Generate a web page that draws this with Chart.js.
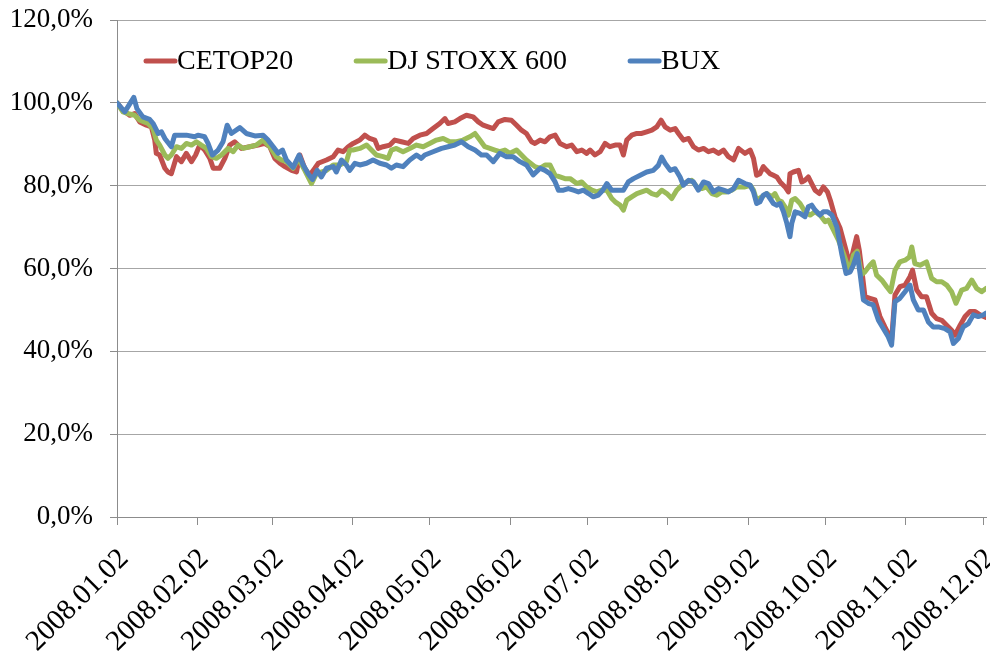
<!DOCTYPE html>
<html>
<head>
<meta charset="utf-8">
<script src="https://cdn.jsdelivr.net/npm/chart.js@4/dist/chart.umd.min.js"></script>
<style>
  body { margin: 0; background: #fff; }
  #wrap { width: 990px; height: 652px; }
</style>
</head>
<body>
<div id="wrap"><canvas id="indexChart" width="990" height="652"></canvas></div>
<script>
// x values are calendar days counted from 2008.01.02
const tickDays = [0, 31, 60, 91, 121, 152, 182, 213, 244, 274, 305, 335];
const tickLabels = ['2008.01.02', '2008.02.02', '2008.03.02', '2008.04.02', '2008.05.02', '2008.06.02',
  '2008.07.02', '2008.08.02', '2008.09.02', '2008.10.02', '2008.11.02', '2008.12.02'];

const cetopDay = [0, 2.3, 4.9, 6.8, 8.8, 11.4, 13.3, 14.6, 15.2, 16.5, 18.5, 19.7, 21, 23, 24.9, 26.8, 28.8, 30.4, 32, 33.9,
  35.9, 37.2, 39.7, 41.7, 43.6, 45.5, 48.1, 51.3, 54.6, 57.1, 59.1, 61, 63, 64.9, 67.5, 69.4, 70.7, 72.6, 74.5, 76.5, 77.8,
  81, 83.6, 85.5, 87.4, 89.4, 91.3, 93.9, 95.8, 97.7, 99.7, 101, 102.9, 105.5, 107.4, 110, 112.6, 114.5, 117.1, 119.7,
  122.2, 124.8, 126.8, 128, 130.6, 132.6, 135.1, 137.7, 139.7, 141.6, 143.5, 145.5, 147.4, 150, 152.5, 154.5, 156.4,
  158.3, 160.3, 161.6, 163.6, 165.5, 167.4, 169.4, 171.3, 173.9, 175.8, 177.8, 179.7, 181.6, 182.9, 184.8, 186.8, 188.7,
  190.6, 192.6, 194.5, 195.8, 197.1, 199, 201, 202.9, 204.8, 206.8, 208.7, 210.4, 211.9, 213.9, 215.8, 217.1, 219, 221,
  222.9, 224.8, 226.8, 228.7, 230.6, 232.6, 234.5, 236.4, 238.4, 240.3, 242.8, 244.8, 246.1, 247.3, 248.6, 249.9, 251.2,
  252.5, 253.8, 255.1, 256.4, 258.3, 259.6, 260.2, 261.5, 263.5, 264.8, 266, 267.3, 268.6, 269.9, 271.6, 273.1, 274.7,
  276, 277.6, 279.6, 281.5, 283.4, 284.7, 286, 287, 288.3, 289.2, 291.1, 293.1, 295, 296.9, 298.9, 299.5, 300.8, 302.7,
  304.7, 306.6, 307.6, 309.2, 311.1, 313, 315, 316.9, 318.9, 320.8, 322.7, 324, 326, 327.9, 329.8, 331.8, 333.7, 336];
const cetopPct = [100, 98.2, 97.0, 97.4, 95.4, 94.6, 94.2, 91.0, 87.8, 87.4, 84.2, 83.3, 82.9, 87.0, 85.8, 87.8, 85.8, 87.4, 89.8, 88.6,
  86.6, 84.2, 84.2, 86.6, 89.8, 90.6, 89.0, 89.4, 89.8, 90.2, 89.4, 86.6, 85.4, 84.6, 83.7, 83.3, 87.4, 84.2, 82.5, 84.2, 85.4,
  86.2, 87.0, 88.6, 88.2, 89.4, 90.2, 91.0, 92.2, 91.4, 91.0, 89.0, 89.4, 89.8, 91.0, 90.6, 90.2, 91.4, 92.2, 92.6,
  93.8, 95.0, 96.2, 95.0, 95.4, 96.2, 97.0, 96.6, 95.4, 94.6, 94.2, 93.8, 95.4, 96.0, 95.8, 94.6, 93.4,
  92.6, 90.6, 90.2, 91.0, 90.6, 91.8, 92.2, 90.2, 89.4, 89.8, 88.2, 88.6, 87.8, 88.6, 87.4, 88.2, 90.2,
  89.4, 89.8, 89.8, 87.4, 91.0, 92.2, 92.6, 92.6, 93.0, 93.4, 94.2, 95.8, 94.2, 93.4, 93.8, 92.6, 91.0, 91.4,
  89.4, 88.6, 89.0, 88.2, 88.6, 87.8, 88.6, 87.0, 86.2, 89.0, 87.8, 88.6, 86.6, 82.5, 82.9, 84.6, 83.7,
  82.9, 82.5, 82.1, 80.9, 79.7, 78.5, 82.9, 83.3, 83.7, 80.9, 81.3, 82.1, 80.5, 78.9, 78.1, 79.7, 78.5,
  76.1, 72.5, 69.7, 65.3, 60.8, 64.4, 67.7, 64.4, 58.0, 53.2, 52.8, 52.4, 48.4, 45.9, 43.5, 42.7, 53.6, 55.6,
  56.0, 58.0, 59.6, 54.8, 53.2, 53.2, 49.2, 47.9, 47.5, 46.3, 45.1, 43.9, 46.3, 48.4, 49.6, 49.6, 48.8, 48.2];

const stoxxDay = [0, 2.3, 4.9, 6.8, 8.8, 12, 13.9, 15.2, 16.5, 18.5, 19.7, 21, 23, 24.9, 26.8, 28.8, 30.7, 32.6, 34.6, 36.5,
  38.4, 40.4, 43, 44.9, 46.8, 48.8, 51.3, 53.9, 56.5, 59.1, 61.6, 63.6, 65.5, 68.1, 70, 72.6, 75.2, 77.1,
  81, 83.6, 86.1, 88.7, 90, 91.3, 93.9, 96.5, 98.4, 100.3, 102.9, 104.8, 106.1, 108, 110.6, 113.2, 115.8, 118.4, 120.9,
  123.5, 126.1, 128.7, 131.3, 133.8, 136.4, 138.4, 140.3, 142.2, 144.2, 146.1, 148, 150, 151.9, 154.5, 156.4, 158.3,
  161.6, 163.6, 165.5, 167.4, 169.4, 171.3, 173.2, 175.2, 177.8, 179.7, 181.6, 183.6, 185.5, 187.4, 189.4, 191.3, 192.6,
  194.5, 195.8, 197.1, 199, 201, 202.9, 204.8, 206.8, 208.7, 210.6, 212.6, 214.5, 216.4, 218.4, 220.3, 222.2, 224.2,
  226.1, 228, 230, 231.9, 233.8, 235.8, 237.7, 239.6, 242.8, 244.8, 246.1, 247.3, 249.3, 251.2, 253.2, 254.4, 255.7,
  257, 258.3, 259.6, 260.9, 262.2, 264.1, 266, 268, 269.9, 271.8, 273.8, 275.1, 277, 278.9, 280.9, 282.4, 283.4,
  284.7, 286.2, 287.9, 289.2, 291.1, 292.4, 293.7, 295.7, 297.6, 299.1, 300.8, 302.7, 304.7, 306.4, 307.3, 308.5,
  310.5, 313, 315, 316.9, 318.9, 320.8, 322.7, 324.4, 326.6, 328.5, 330.5, 332.4, 334.3, 336];
const stoxxPct = [100, 97.8, 97.3, 97.0, 95.8, 95.0, 93.8, 91.0, 89.8, 87.4, 86.6, 87.4, 89.4, 89.0, 90.2, 89.8, 90.6, 89.8, 89.0, 87.0,
  86.6, 87.4, 89.0, 88.2, 89.8, 89.0, 89.4, 89.8, 91.0, 89.4, 87.0, 86.2, 85.8, 84.2, 86.6, 83.7, 80.5, 82.9,
  83.7, 85.0, 85.0, 85.8, 88.6, 88.6, 89.0, 89.8, 88.6, 87.4, 87.0, 86.6, 88.6, 89.0, 88.2, 89.0, 89.8, 89.4, 90.2,
  91.0, 91.4, 90.6, 90.6, 91.0, 91.8, 92.6, 91.0, 89.4, 89.0, 88.6, 88.2, 88.6, 87.8, 88.6, 87.4, 86.2,
  84.6, 84.2, 85.0, 85.0, 82.5, 82.1, 81.7, 81.7, 80.5, 80.9, 79.7, 78.9, 78.5, 78.9, 78.9, 76.9, 76.1,
  75.3, 74.1, 76.5, 77.3, 78.1, 78.5, 78.9, 78.1, 77.7, 78.9, 78.1, 76.9, 78.9, 80.1, 80.9, 81.3, 79.7,
  79.3, 79.7, 78.1, 77.7, 78.5, 78.5, 78.9, 79.7, 79.7, 80.1, 78.9, 76.5, 77.3, 78.1, 77.3, 78.1, 76.5,
  76.1, 74.9, 72.9, 76.5, 76.9, 75.7, 73.7, 72.9, 73.7, 72.9, 71.3, 71.7, 69.3, 66.9, 63.6, 60.8, 59.5,
  63.2, 64.2, 58.5, 59.2, 60.8, 61.6, 58.4, 57.2, 55.6, 54.4, 59.6, 61.6, 62.0, 62.8, 65.2, 61.2,
  60.8, 61.6, 57.6, 56.8, 56.8, 56.0, 54.4, 51.6, 54.8, 55.2, 57.2, 55.2, 54.4, 55.2];

const buxDay = [0, 3, 6.5, 7.7, 10, 12.6, 14, 15.9, 17.2, 18.5, 21, 22.3, 26.8, 30, 31.3, 33.9, 35.2, 36.9, 39.1, 41,
  42.6, 44.2, 47.5, 50, 53.3, 56.5, 58.4, 60.4, 62.3, 64, 65.5, 68.1, 70.4, 72, 73.9, 75.6, 77.4, 79,
  81, 83.6, 84.8, 86.8, 88.7, 90, 92, 93.9, 96.5, 99, 101.6, 104.2, 106.1, 108, 110.6, 113.2, 115.8, 117.7, 119,
  122.2, 125.5, 128, 130.6, 133.2, 135.8, 138.4, 140.9, 142.9, 145.5, 148, 150.6, 153.2, 155.8, 158.3, 160.9, 163.6,
  165.5, 167.4, 169.4, 170.7, 172.6, 174.5, 176.5, 178.4, 180.3, 182.3, 184.2, 186.1, 187.8, 189.4, 191.3, 193.9,
  195.8, 197.7, 199.7, 202.3, 204.8, 207.4, 209.3, 210.6, 211.9, 213.9, 215.8, 217.7, 219, 221, 222.9, 224.8, 226.8,
  228.7, 230.6, 232.6, 234.5, 236.4, 238.4, 240.3, 242.8, 244.8, 246.1, 247.3, 248.6, 249.9, 251.2, 252.5, 253.8,
  255.1, 256.4, 257.7, 259, 260.2, 260.9, 262.2, 264.1, 266, 267.3, 268.6, 269.9, 271.8, 273.1, 274.7, 276.4, 278.3,
  280.2, 281.9, 283.5, 284.7, 286.2, 287.3, 288.6, 290.5, 292.4, 294.4, 296.3, 298.2, 299.5, 300.8, 302.7, 304.7,
  306.6, 307.9, 309.8, 311.8, 313.7, 315.6, 317.6, 320.1, 322.1, 323.4, 325.3, 327.2, 329.2, 331.1, 333, 335, 336];
const buxPct = [100, 97.8, 101.3, 98.6, 96.6, 96.0, 95.0, 92.6, 93.0, 91.4, 89.4, 92.2, 92.2, 91.8, 92.2, 91.8, 90.2, 87.4, 88.6, 90.6,
  94.6, 92.6, 94.0, 92.6, 92.0, 92.2, 91.0, 89.4, 87.8, 88.6, 86.2, 84.4, 87.4, 85.0, 82.9, 81.5, 83.7, 82.1,
  84.2, 84.6, 83.3, 86.2, 85.0, 83.7, 85.4, 85.0, 85.4, 86.2, 85.4, 85.0, 84.2, 85.0, 84.6, 86.2, 87.4, 86.6, 87.4,
  88.2, 89.0, 89.4, 89.8, 90.6, 89.4, 88.6, 87.4, 87.4, 85.8, 87.8, 87.0, 87.0, 85.8, 85.0, 82.6, 84.2,
  83.7, 82.9, 80.9, 78.9, 78.9, 79.3, 78.9, 78.5, 78.9, 78.1, 77.3, 77.7, 78.9, 80.5, 78.9, 78.9,
  78.9, 80.9, 81.7, 82.5, 83.3, 83.7, 84.9, 86.9, 85.4, 83.7, 84.1, 82.1, 80.1, 81.3, 80.9, 78.9, 80.9,
  80.5, 78.5, 79.3, 78.9, 78.5, 79.3, 81.3, 80.5, 80.1, 78.5, 75.7, 76.1, 77.7, 78.1, 76.9, 75.7,
  75.3, 75.7, 73.7, 70.9, 67.7, 70.9, 73.7, 73.3, 72.5, 74.9, 75.3, 74.1, 72.9, 73.7, 73.7, 72.9, 70.1,
  63.6, 58.8, 59.2, 60.8, 63.6, 58.8, 52.4, 51.6, 51.2, 47.5, 45.5, 43.5, 41.5, 52.0, 52.8, 54.4,
  56.0, 52.4, 50.0, 50.0, 47.1, 45.9, 45.9, 45.5, 44.7, 41.9, 43.1, 45.9, 46.7, 48.8, 48.4, 48.8, 49.2];

const seriesNames = ['CETOP20', 'DJ STOXX 600', 'BUX'];
const seriesColors = ['#C0504D', '#9BBB59', '#4F81BD'];

const toPoints = (days, vals) => days.map((d, i) => ({ x: d, y: vals[i] }));

// legend drawn inside the plot, line sample touching the text like Excel does
const inlineLegend = {
  id: 'inlineLegend',
  afterDraw(chart) {
    const { ctx, chartArea } = chart;
    let x = chartArea.left + 29;
    const y = chartArea.top + 41;
    ctx.save();
    ctx.font = '28px "Liberation Serif", "Times New Roman", serif';
    ctx.textBaseline = 'middle';
    ctx.textAlign = 'left';
    chart.data.datasets.forEach((ds) => {
      ctx.strokeStyle = ds.borderColor;
      ctx.lineWidth = 5;
      ctx.lineCap = 'round';
      ctx.beginPath();
      ctx.moveTo(x, y);
      ctx.lineTo(x + 29, y);
      ctx.stroke();
      ctx.fillStyle = '#000';
      ctx.fillText(ds.label, x + 31, y + 1);
      x += 31 + ctx.measureText(ds.label).width + 63;
    });
    ctx.restore();
  }
};

const serif = '"Liberation Serif", "Times New Roman", serif';

new Chart(document.getElementById('indexChart'), {
  type: 'line',
  data: {
    datasets: [
      { label: seriesNames[0], data: toPoints(cetopDay, cetopPct), borderColor: seriesColors[0], order: 3 },
      { label: seriesNames[1], data: toPoints(stoxxDay, stoxxPct), borderColor: seriesColors[1], order: 2 },
      { label: seriesNames[2], data: toPoints(buxDay, buxPct), borderColor: seriesColors[2], order: 1 },
    ],
  },
  options: {
    responsive: false,
    animation: false,
    layout: { padding: { top: 0, right: 4, left: 0, bottom: 0 } },
    elements: {
      line: { borderWidth: 5, tension: 0, borderJoinStyle: 'round', borderCapStyle: 'round', fill: false },
      point: { radius: 0, hoverRadius: 0 },
    },
    plugins: {
      legend: { display: false },
      tooltip: { enabled: false },
    },
    scales: {
      x: {
        type: 'linear',
        min: 0,
        max: 336,
        afterBuildTicks: (scale) => {
          scale.ticks = tickDays.map((d) => ({ value: d }));
        },
        afterFit: (scale) => {
          scale.height = 135;
          scale.paddingLeft = 0;
          scale.paddingRight = 0;
        },
        grid: { drawOnChartArea: false, drawTicks: true, tickLength: 8, tickColor: '#8c8c8c' },
        border: { display: true, color: '#8c8c8c', width: 1 },
        ticks: {
          autoSkip: false,
          maxRotation: 45,
          minRotation: 45,
          padding: 17,
          labelOffset: 7,
          color: '#000',
          font: { family: serif, size: 29 },
          callback: (value, index) => tickLabels[index],
        },
      },
      y: {
        min: 0,
        max: 120,
        afterFit: (scale) => {
          scale.width = 117;
          scale.paddingTop = 20;
          scale.paddingBottom = 0;
        },
        grid: { color: '#a6a6a6', tickLength: 7, tickColor: '#8c8c8c' },
        border: { display: true, color: '#8c8c8c', width: 1 },
        ticks: {
          stepSize: 20,
          padding: 17,
          color: '#000',
          font: { family: serif, size: 27 },
          callback: (value) => value.toFixed(1).replace('.', ',') + '%',
        },
      },
    },
  },
  plugins: [inlineLegend],
});
</script>
</body>
</html>
